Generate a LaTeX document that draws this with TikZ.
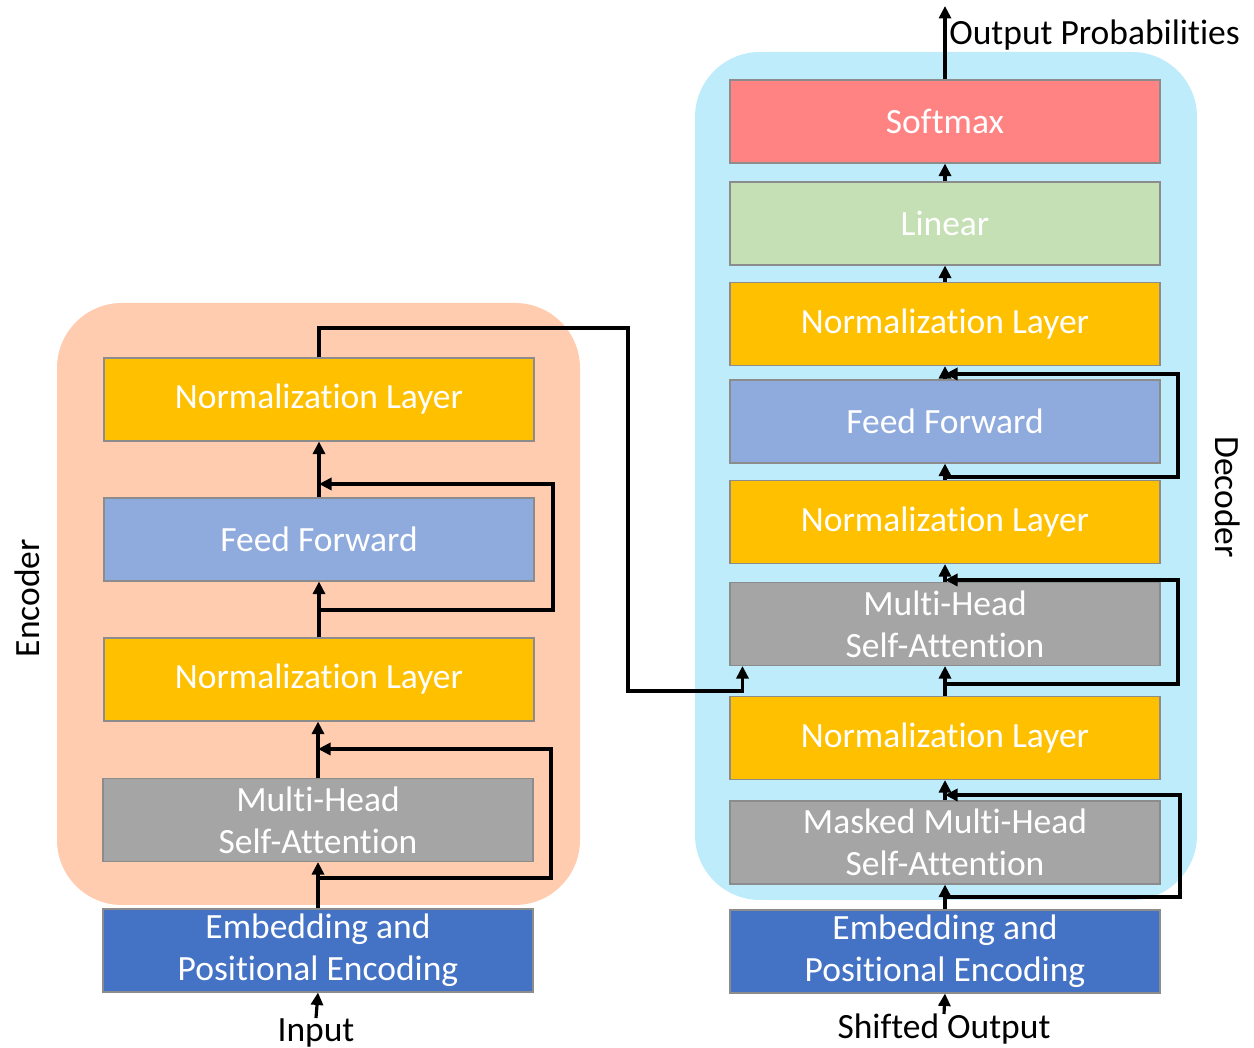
\documentclass[tikz,border=0pt]{standalone}
\usepackage{fontspec}
\setmainfont{Carlito}[Ligatures=NoCommon]
\usepackage{tikz}
\usetikzlibrary{arrows.meta,calc}
\definecolor{normy}{HTML}{FFC000}
\definecolor{ffblue}{HTML}{8FAADC}
\definecolor{attgray}{HTML}{A5A5A5}
\definecolor{embblue}{HTML}{4472C4}
\definecolor{softred}{HTML}{FF8383}
\definecolor{lingreen}{HTML}{C5E0B4}
\definecolor{encbg}{HTML}{FFCCB0}
\definecolor{decbg}{HTML}{BEECFB}
\newcommand{\blkfont}{\fontsize{20.2}{24}\selectfont}

\begin{document}
\begin{tikzpicture}[blk/.style={draw=black!45,line width=0.6pt,minimum width=8.6cm,minimum height=1.66cm,
    text=white,font=\blkfont,align=center,inner sep=0pt},
  lbl/.style={font=\blkfont,inner sep=0pt},
  arr/.style={-{Triangle[length=2.5mm,width=2.4mm]},line width=1.8pt}]
  \useasboundingbox (0,0) rectangle (25.08,20.96);
  \fill[encbg,rounded corners=1.3cm] (1.14,2.86) rectangle (11.6,14.9);
  \fill[decbg,rounded corners=1.3cm] (13.9,2.96) rectangle (23.94,19.92);
  % encoder
  \node[blk,fill=embblue] (encEmb) at (6.36,1.95) {Embedding and\\Positional Encoding};
  \node[blk,fill=attgray] (encMHA) at (6.36,4.56) {Multi-Head\\Self-Attention};
  \node[blk,fill=normy] (encNormA) at (6.38,7.37) {Normalization Layer};
  \node[blk,fill=ffblue] (encFF) at (6.38,10.17) {Feed Forward};
  \node[blk,fill=normy] (encNormB) at (6.38,12.97) {Normalization Layer};
  % decoder
  \node[blk,fill=embblue] (decEmb) at (18.9,1.93) {Embedding and\\Positional Encoding};
  \node[blk,fill=attgray] (decMMHA) at (18.9,4.11) {Masked Multi-Head\\Self-Attention};
  \node[blk,fill=normy] (decNormA) at (18.9,6.2) {Normalization Layer};
  \node[blk,fill=attgray] (decMHA) at (18.9,8.48) {Multi-Head\\Self-Attention};
  \node[blk,fill=normy] (decNormB) at (18.9,10.52) {Normalization Layer};
  \node[blk,fill=ffblue] (decFF) at (18.9,12.53) {Feed Forward};
  \node[blk,fill=normy] (decNormC) at (18.9,14.48) {Normalization Layer};
  \node[blk,fill=lingreen] (linear) at (18.9,16.49) {Linear};
  \node[blk,fill=softred] (softmax) at (18.9,18.53) {Softmax};
  % labels
  \node[lbl,anchor=north] (inp) at (6.32,0.6) {Input};
  \node[lbl,anchor=north] (shOut) at (18.88,0.68) {Shifted Output};
  \node[lbl,anchor=base west] (outProb) at (18.98,20.06) {Output Probabilities};
  \node[lbl,rotate=90] (encLbl) at (0.54,9.0) {Encoder};
  \node[lbl,rotate=-90] (decLbl) at (24.56,11.02) {Decoder};
  % encoder arrows
  \draw[arr] (inp.north) -- (encEmb.south);
  \draw[arr] (encEmb.north) -- (encEmb.north |- encMHA.south);
  \draw[arr] (encMHA.north) -- (encMHA.north |- encNormA.south);
  \draw[arr] (encNormA.north) -- (encFF.south);
  \draw[arr] (encFF.north) -- (encNormB.south);
  \coordinate (er1) at (6.36,3.4); \coordinate (er1t) at (11.02,5.98);
  \draw[arr] (er1) -| (er1t) -- (er1t -| encMHA.north);
  \coordinate (er2) at (6.38,8.76); \coordinate (er2t) at (11.06,11.28);
  \draw[arr] (er2) -| (er2t) -- (er2t -| encFF.north);
  \coordinate (c1) at (6.38,14.4); \coordinate (c2) at (12.56,7.14);
  \draw[arr] (encNormB.north) -- (c1) -| (c2) -| ($(decMHA.south west)+(0.26,0)$);
  % decoder arrows
  \draw[arr] (shOut.north) -- (decEmb.south);
  \draw[arr] (decEmb.north) -- (decMMHA.south);
  \draw[arr] (decMMHA.north) -- (decNormA.south);
  \draw[arr] (decNormA.north) -- (decMHA.south);
  \draw[arr] (decMHA.north) -- (decNormB.south);
  \draw[arr] (decNormB.north) -- (decFF.south);
  \draw[arr] (decFF.north) -- (decNormC.south);
  \draw[arr] (decNormC.north) -- (linear.south);
  \draw[arr] (linear.north) -- (softmax.south);
  \coordinate (outP) at (18.9,20.84);
  \draw[arr] (softmax.north) -- (outP);
  \coordinate (dr1) at (18.9,3.02); \coordinate (dr1t) at (23.6,5.06);
  \draw[arr] (dr1) -| (dr1t) -- (dr1t -| decMMHA.north);
  \coordinate (dr2) at (18.9,7.28); \coordinate (dr2t) at (23.56,9.36);
  \draw[arr] (dr2) -| (dr2t) -- (dr2t -| decMHA.north);
  \coordinate (dr3) at (18.9,11.42); \coordinate (dr3t) at (23.56,13.48);
  \draw[arr] (dr3) -| (dr3t) -- (dr3t -| decFF.north);
\end{tikzpicture}
\end{document}
